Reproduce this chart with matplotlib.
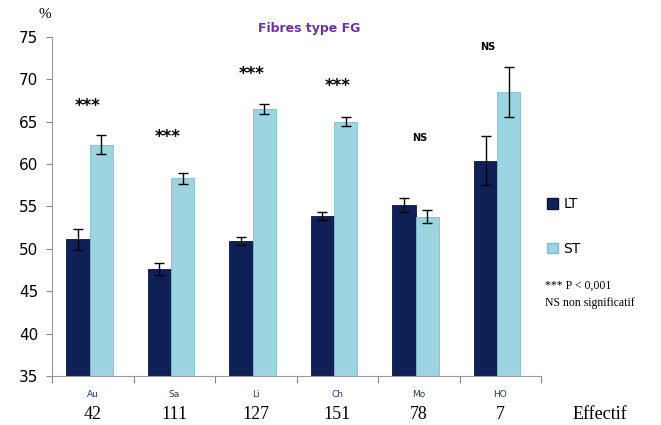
import numpy as np
import matplotlib
matplotlib.use("Agg")
import matplotlib.pyplot as plt
from matplotlib.patches import Patch

# data
categories = ["Au", "Sa", "Li", "Ch", "Mo", "HO"]
effectifs = ["42", "111", "127", "151", "78", "7"]
lt_values = [51.1, 47.6, 50.9, 53.9, 55.2, 60.4]
lt_err = [1.2, 0.7, 0.5, 0.5, 0.8, 2.9]
st_values = [62.3, 58.3, 66.5, 65.0, 53.8, 68.5]
st_err = [1.1, 0.7, 0.6, 0.5, 0.8, 3.0]
signif = ["***", "***", "***", "***", "NS", "NS"]
signif_y = [66.9, 63.2, 70.6, 69.2, 63.1, 73.8]
signif_dx = [-0.06, -0.08, -0.05, 0.0, 0.01, -0.16]

lt_color = "#0f2057"
st_color = "#9dd4e2"

fig = plt.figure(figsize=(6.61, 4.25), dpi=100)
ax = fig.add_axes([0.0787, 0.1153, 0.740, 0.798])

x = np.arange(len(categories))
w = 0.285
off = -0.04
ax.bar(x + off - w / 2, lt_values, w, color=lt_color, edgecolor="#0a1640",
       linewidth=0.6, yerr=lt_err, capsize=3.5,
       error_kw=dict(ecolor="black", elinewidth=1.0, capthick=1.0), zorder=2)
ax.bar(x + off + w / 2, st_values, w, color=st_color, edgecolor="#7fbccb",
       linewidth=0.6, yerr=st_err, capsize=3.5,
       error_kw=dict(ecolor="black", elinewidth=1.0, capthick=1.0), zorder=2)

for i, s in enumerate(signif):
    size = 12 if s == "***" else 7
    ax.text(x[i] + signif_dx[i], signif_y[i], s, ha="center", va="center",
            fontsize=size, fontweight="bold", color="black")

ax.set_ylim(35, 75)
ax.set_xlim(-0.5, len(categories) - 0.5)
ax.set_yticks(np.arange(35, 76, 5))
ax.tick_params(axis="y", labelsize=11, length=4, color="#888888", pad=6)
ax.set_xticks(np.arange(-0.5, len(categories), 1.0))
ax.set_xticklabels([])
ax.tick_params(axis="x", length=5, color="#888888")
for i, c in enumerate(categories):
    ax.text(x[i], 32.85, c, ha="center", va="center", fontsize=6.5,
            color="#1f3a6e", clip_on=False)
    ax.text(x[i], 30.5, effectifs[i], ha="center", va="center", fontsize=13,
            family="Liberation Serif", color="black", clip_on=False)
ax.text(6.22, 30.5, "Effectif", ha="center", va="center", fontsize=13,
        family="Liberation Serif", clip_on=False)

for side in ["top", "right"]:
    ax.spines[side].set_visible(False)
ax.spines["left"].set_color("#999999")
ax.spines["bottom"].set_color("#999999")

fig.text(0.068, 0.965, "%", ha="center", va="center", fontsize=11,
         family="Liberation Serif")
fig.text(0.468, 0.933, "Fibres type FG", ha="center", va="center", fontsize=9,
         fontweight="bold", color="#7030a0")

handles = [Patch(facecolor=lt_color, edgecolor="#0a1640", label="LT"),
           Patch(facecolor=st_color, edgecolor="#7fbccb", label="ST")]
fig.legend(handles=handles, loc="center left", bbox_to_anchor=(0.808, 0.467),
           frameon=False, fontsize=10, handlelength=0.8, handleheight=0.8,
           labelspacing=2.2, handletextpad=0.4)

fig.text(0.824, 0.327, "*** P < 0,001", ha="left", va="center", fontsize=8.5,
         family="Liberation Serif")
fig.text(0.824, 0.287, "NS non significatif", ha="left", va="center",
         fontsize=8.5, family="Liberation Serif")

plt.savefig("out.png")
